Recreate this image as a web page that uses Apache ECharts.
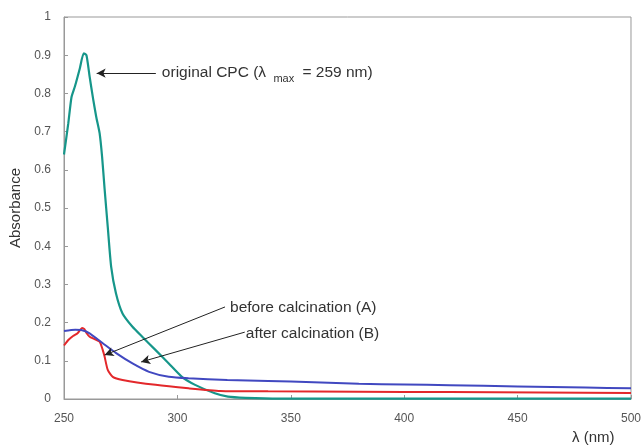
<!DOCTYPE html>
<html>
<head>
<meta charset="utf-8">
<script src="https://cdn.jsdelivr.net/npm/echarts@6/dist/echarts.min.js"></script>
<style>
  html, body { margin: 0; padding: 0; background: #fff; }
  #chart { width: 644px; height: 448px; }
</style>
</head>
<body>
<div id="chart"></div>
<script>
  // spectra: [wavelength nm, absorbance]
  var originalCPC = [
    [250, 0.64], [251.9, 0.722], [253.3, 0.79], [254.8, 0.818], [257, 0.866], [258.7, 0.905],
    [259.9, 0.90], [261.3, 0.844], [262.8, 0.787], [264.2, 0.739], [265.7, 0.696], [266.8, 0.634],
    [267.9, 0.55], [269.3, 0.45], [270.8, 0.346], [272.9, 0.277], [275.8, 0.224], [280.2, 0.189],
    [284.5, 0.163], [290.4, 0.128], [296.2, 0.093], [302, 0.058], [307.8, 0.037], [316.5, 0.015],
    [322.3, 0.006], [330, 0.003], [345, 0.001], [400, 0.001], [450, 0.001], [500, 0.001]
  ];
  var beforeCalc = [
    [250, 0.14], [252, 0.155], [254, 0.165], [256, 0.172], [258, 0.186], [259, 0.183], [260, 0.172],
    [261.3, 0.163], [263.5, 0.157], [265.7, 0.15], [267, 0.13], [267.9, 0.111], [269.3, 0.076],
    [271.5, 0.058], [275.8, 0.05], [290.4, 0.037], [304.9, 0.028], [319, 0.021], [340, 0.02],
    [380, 0.019], [420, 0.018], [460, 0.017], [500, 0.016]
  ];
  var afterCalc = [
    [250, 0.178], [255, 0.181], [258, 0.180], [261.3, 0.172], [267.1, 0.146], [273, 0.12],
    [280.2, 0.093], [287.5, 0.071], [296.2, 0.058], [304.9, 0.054], [322, 0.05], [340, 0.047],
    [360, 0.044], [380, 0.040], [400, 0.038], [420, 0.036], [450, 0.033], [480, 0.030], [500, 0.028]
  ];

  // annotation arrows in data coords: [from (text end), to (arrow head)]
  var arrowCPC = [[290.5, 0.853], [264.4, 0.853]];
  var arrowA = [[321, 0.241], [267.9, 0.115]];
  var arrowB = [[329.7, 0.175], [284, 0.097]];

  var myChart = echarts.init(document.getElementById('chart'));

  function arrowLine(pts) {
    return {
      silent: true,
      symbol: ['none', 'arrow'],
      symbolSize: [7, 9],
      label: { show: false },
      lineStyle: { color: '#222', width: 1, type: 'solid' },
      data: [[{ coord: pts[0] }, { coord: pts[1] }]]
    };
  }

  var axisStyle = { lineStyle: { color: '#999', width: 1 } };

  myChart.setOption({
    animation: false,
    grid: { left: 64, right: 6, top: 17, bottom: 49, show: true, borderColor: '#999', borderWidth: 1 },
    xAxis: {
      type: 'value', min: 250, max: 500, interval: 50,
      axisLine: axisStyle,
      axisTick: { inside: true, length: 4, lineStyle: { color: '#999' } },
      axisLabel: { color: '#555', fontSize: 12, fontFamily: 'Liberation Sans', margin: 14 },
      splitLine: { show: false }
    },
    yAxis: {
      type: 'value', min: 0, max: 1, interval: 0.1,
      name: 'Absorbance', nameLocation: 'middle', nameGap: 41,
      nameTextStyle: { color: '#333', fontSize: 15, fontFamily: 'Liberation Sans' },
      axisLine: axisStyle,
      axisTick: { inside: true, length: 4, lineStyle: { color: '#999' } },
      axisLabel: { color: '#555', fontSize: 12, fontFamily: 'Liberation Sans', margin: 13 },
      splitLine: { show: false }
    },
    series: [
      {
        name: 'original CPC', type: 'line', data: originalCPC, symbol: 'none', smooth: 0.2,
        lineStyle: { color: '#16968a', width: 2.2 }, markLine: arrowLine(arrowCPC)
      },
      {
        name: 'before calcination (A)', type: 'line', data: beforeCalc, symbol: 'none', smooth: 0.2,
        lineStyle: { color: '#e3282b', width: 2 }, markLine: arrowLine(arrowA)
      },
      {
        name: 'after calcination (B)', type: 'line', data: afterCalc, symbol: 'none', smooth: 0.2,
        lineStyle: { color: '#4148c0', width: 2 }, markLine: arrowLine(arrowB)
      }
    ]
  });

  // text labels placed just past the tail of each arrow
  function px(pt) { return myChart.convertToPixel({ gridIndex: 0 }, pt); }
  var pC = px(arrowCPC[0]), pA = px(arrowA[0]), pB = px(arrowB[0]);
  var txt = { fill: '#333', fontSize: 15.5, fontFamily: 'Liberation Sans', verticalAlign: 'middle' };

  myChart.setOption({
    graphic: [
      {
        type: 'text', x: pC[0] + 6, y: pC[1],
        style: Object.assign({}, txt, {
          text: '{a|original CPC (λ }{s|max}{a| = 259 nm)}',
          rich: {
            a: { fontSize: 15.5, fontFamily: 'Liberation Sans', fill: '#333' },
            s: { fontSize: 11, fontFamily: 'Liberation Sans', fill: '#333', padding: [11, 4, 0, 3] }
          }
        })
      },
      { type: 'text', x: pA[0] + 5, y: pA[1] + 1, style: Object.assign({}, txt, { text: 'before calcination (A)' }) },
      { type: 'text', x: pB[0] + 1, y: pB[1] + 2, style: Object.assign({}, txt, { text: 'after calcination (B)' }) },
      {
        type: 'text', x: 572, y: 438,
        style: Object.assign({}, txt, { text: 'λ (nm)', fontSize: 15 })
      }
    ]
  });
</script>
</body>
</html>
